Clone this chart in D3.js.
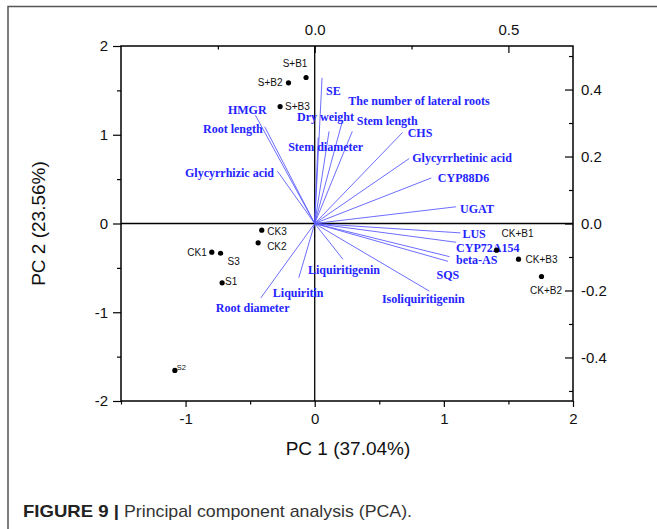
<!DOCTYPE html>
<html>
<head>
<meta charset="utf-8">
<script src="https://cdn.jsdelivr.net/npm/d3@7"></script>
<style>
  html, body { margin: 0; padding: 0; background: #fff; }
  svg { display: block; }
</style>
</head>
<body>
<script>
// scores (PC1, PC2)
const sampleNames = ["S+B1", "S+B2", "S+B3", "CK3", "CK2", "CK1", "S3", "S1", "S2", "CK+B1", "CK+B3", "CK+B2"];
const samplePC1 = [-0.067, -0.203, -0.268, -0.41, -0.438, -0.797, -0.729, -0.717, -1.083, 1.408, 1.578, 1.756];
const samplePC2 = [1.645, 1.585, 1.318, -0.075, -0.218, -0.323, -0.335, -0.668, -1.656, -0.30, -0.402, -0.597];

// loadings (top / right axes)
const varNames = ["SE", "The number of lateral roots", "Dry weight", "Stem length", "Stem diameter", "CHS",
  "Glycyrrhetinic acid", "CYP88D6", "UGAT", "LUS", "CYP72A154", "beta-AS", "SQS", "Isoliquiritigenin",
  "Liquiritigenin", "Liquiritin", "Root diameter", "HMGR", "Root length", "Glycyrrhizic acid"];
const loadPC1 = [0.019, 0.071, 0.037, 0.097, 0.009, 0.227, 0.244, 0.301, 0.365, 0.376, 0.365, 0.348, 0.344, 0.296,
  0.073, -0.041, -0.139, -0.153, -0.129, -0.096];
const loadPC2 = [0.435, 0.304, 0.275, 0.275, 0.257, 0.272, 0.194, 0.136, 0.050, -0.028, -0.056, -0.099, -0.113, -0.202,
  -0.107, -0.162, -0.222, 0.323, 0.289, 0.156];

// tick values
const bottomTicks = [-1, 0, 1, 2];
const bottomMinor = [-1.5, -0.5, 0.5, 1.5];
const leftTicks = [-2, -1, 0, 1, 2];
const leftMinor = [-1.5, -0.5, 0.5, 1.5];
const topTicks = [0, 0.5];
const topMinor = [-0.25, 0.25];
const rightTicks = [-0.4, -0.2, 0, 0.2, 0.4];
const rightMinor = [-0.5, -0.3, -0.1, 0.1, 0.3, 0.5];

// label placement (pixel offsets from point / arrow tip)
const sampleLabelPos = {
  "S+B1": [-11, -10.5, "middle"], "S+B2": [-6, 3.5, "end"], "S+B3": [5, 3.5, "start"],
  "CK3": [5.5, 5, "start"], "CK2": [9, 7, "start"], "CK1": [-5, 3.5, "end"],
  "S3": [7, 11.5, "start"], "S1": [3, 2, "start"], "S2": [2, -0.5, "start"],
  "CK+B1": [5, -13, "start"], "CK+B3": [7, 3.5, "start"], "CK+B2": [4.5, 18, "middle"]
};
const varLabelPos = {
  "SE": [4, 17, "start"], "The number of lateral roots": [6, -17, "start"], "Dry weight": [-32, -10, "start"],
  "Stem length": [4.5, -6.5, "start"], "Stem diameter": [-30, 14, "start"], "CHS": [5, 5, "start"],
  "Glycyrrhetinic acid": [3, 3, "start"], "CYP88D6": [6.5, 4, "start"], "UGAT": [4, 6.5, "start"],
  "LUS": [2, 5.5, "start"], "CYP72A154": [0, 9.5, "start"], "beta-AS": [6.5, 7.7, "start"],
  "SQS": [-11.5, 18, "start"], "Isoliquiritigenin": [-47.5, 11.5, "start"], "Liquiritigenin": [-35, 14.5, "start"],
  "Liquiritin": [-26, 19, "start"], "Root diameter": [-45, 14, "start"], "HMGR": [-27.5, -1, "start"],
  "Root length": [-2, 6.5, "end"], "Glycyrrhizic acid": [-3.5, 5.3, "end"]
};

const W = 657, H = 529;
const plot = { left: 121, right: 573, top: 46, bottom: 401 };

const svg = d3.select("body").append("svg").attr("width", W).attr("height", H);

// outer figure border
svg.append("path")
  .attr("d", `M8,${H} L8,6.5 L${W},6.5`)
  .attr("fill", "none").attr("stroke", "#555").attr("stroke-width", 1.5);

const x = d3.scaleLinear().domain([-1.5, 2]).range([plot.left, plot.right]);
const y = d3.scaleLinear().domain([-2, 2]).range([plot.bottom, plot.top]);
const xL = d3.scaleLinear().domain([-0.5, 0.6667]).range([plot.left, plot.right]);
const yL = d3.scaleLinear().domain([-0.53, 0.53]).range([plot.bottom, plot.top]);

const tickFont = "Arial, 'Liberation Sans', Helvetica, sans-serif";
const serifFont = "'Times New Roman', 'Liberation Serif', Times, serif";
const fmt1 = (d) => d.toFixed(1);

function styleAxis(g) {
  g.select(".domain").remove();
  g.selectAll("line").attr("stroke", "#000").attr("stroke-width", 1.2);
  g.selectAll("text").attr("fill", "#111").style("font-family", tickFont).style("font-size", "15px");
}

// bottom
svg.append("g").attr("transform", `translate(0,${plot.bottom})`)
  .call(d3.axisBottom(x).tickValues(bottomTicks).tickSize(6).tickPadding(6.5).tickFormat((d) => String(d)))
  .call(styleAxis);
svg.append("g").attr("transform", `translate(0,${plot.bottom})`)
  .call(d3.axisBottom(x).tickValues(bottomMinor).tickSize(3.5).tickFormat(""))
  .call(styleAxis);

// left
svg.append("g").attr("transform", `translate(${plot.left},0)`)
  .call(d3.axisLeft(y).tickValues(leftTicks).tickSize(8).tickPadding(5).tickFormat((d) => String(d)))
  .call(styleAxis);
svg.append("g").attr("transform", `translate(${plot.left},0)`)
  .call(d3.axisLeft(y).tickValues(leftMinor).tickSize(4).tickFormat(""))
  .call(styleAxis);

// top (inward ticks)
svg.append("g").attr("transform", `translate(0,${plot.top})`)
  .call(d3.axisTop(xL).tickValues(topTicks).tickSize(-7).tickPadding(11).tickFormat(fmt1))
  .call(styleAxis);
svg.append("g").attr("transform", `translate(0,${plot.top})`)
  .call(d3.axisTop(xL).tickValues(topMinor).tickSize(-3.5).tickFormat(""))
  .call(styleAxis);

// right (inward ticks)
svg.append("g").attr("transform", `translate(${plot.right},0)`)
  .call(d3.axisRight(yL).tickValues(rightTicks).tickSize(-8).tickPadding(8).tickFormat(fmt1))
  .call(styleAxis);
svg.append("g").attr("transform", `translate(${plot.right},0)`)
  .call(d3.axisRight(yL).tickValues(rightMinor).tickSize(-4).tickFormat(""))
  .call(styleAxis);

// frame and zero lines
svg.append("rect")
  .attr("x", plot.left).attr("y", plot.top)
  .attr("width", plot.right - plot.left).attr("height", plot.bottom - plot.top)
  .attr("fill", "none").attr("stroke", "#000").attr("stroke-width", 1.5);
svg.append("line")
  .attr("x1", plot.left).attr("x2", plot.right).attr("y1", y(0)).attr("y2", y(0))
  .attr("stroke", "#000").attr("stroke-width", 1.3);
svg.append("line")
  .attr("x1", x(0)).attr("x2", x(0)).attr("y1", plot.top).attr("y2", plot.bottom)
  .attr("stroke", "#000").attr("stroke-width", 1.3);

// loading vectors
const loadings = varNames.map((n, i) => ({ name: n, px: loadPC1[i], py: loadPC2[i] }));
svg.append("g").selectAll("line").data(loadings).join("line")
  .attr("x1", xL(0)).attr("y1", yL(0))
  .attr("x2", (d) => xL(d.px)).attr("y2", (d) => yL(d.py))
  .attr("stroke", "#5c5cff").attr("stroke-width", 0.9);

svg.append("g").selectAll("text").data(loadings).join("text")
  .attr("x", (d) => xL(d.px) + varLabelPos[d.name][0])
  .attr("y", (d) => yL(d.py) + varLabelPos[d.name][1])
  .attr("text-anchor", (d) => varLabelPos[d.name][2])
  .attr("fill", "#2424ff")
  .style("font-family", serifFont)
  .style("font-weight", "bold")
  .style("font-size", "12px")
  .text((d) => d.name);

// sample scores
const samples = sampleNames.map((n, i) => ({ name: n, px: samplePC1[i], py: samplePC2[i] }));
svg.append("g").selectAll("circle").data(samples).join("circle")
  .attr("cx", (d) => x(d.px)).attr("cy", (d) => y(d.py))
  .attr("r", 2.6).attr("fill", "#000");

svg.append("g").selectAll("text").data(samples).join("text")
  .attr("x", (d) => x(d.px) + sampleLabelPos[d.name][0])
  .attr("y", (d) => y(d.py) + sampleLabelPos[d.name][1])
  .attr("text-anchor", (d) => sampleLabelPos[d.name][2])
  .attr("fill", "#111")
  .style("font-family", tickFont)
  .style("font-size", (d) => d.name === "S2" ? "7.5px" : "10px")
  .text((d) => d.name);

// axis titles
svg.append("text")
  .attr("x", (plot.left + plot.right) / 2 + 1).attr("y", 455)
  .attr("text-anchor", "middle")
  .attr("fill", "#111")
  .style("font-family", tickFont).style("font-size", "19px")
  .text("PC 1 (37.04%)");
svg.append("text")
  .attr("transform", `translate(45,${(plot.top + plot.bottom) / 2}) rotate(-90)`)
  .attr("text-anchor", "middle")
  .attr("fill", "#111")
  .style("font-family", tickFont).style("font-size", "19px")
  .text("PC 2 (23.56%)");

// caption
const capFont = "'Liberation Sans Narrow', 'Arial Narrow', Arial, sans-serif";
svg.append("text")
  .attr("x", 23).attr("y", 517)
  .attr("fill", "#222")
  .attr("textLength", 96).attr("lengthAdjust", "spacingAndGlyphs")
  .style("font-family", capFont).style("font-size", "17px").style("font-weight", "bold")
  .text("FIGURE 9 |");
svg.append("text")
  .attr("x", 124).attr("y", 517)
  .attr("fill", "#333")
  .attr("textLength", 288).attr("lengthAdjust", "spacingAndGlyphs")
  .style("font-family", capFont).style("font-size", "17px")
  .text("Principal component analysis (PCA).");
</script>
</body>
</html>
